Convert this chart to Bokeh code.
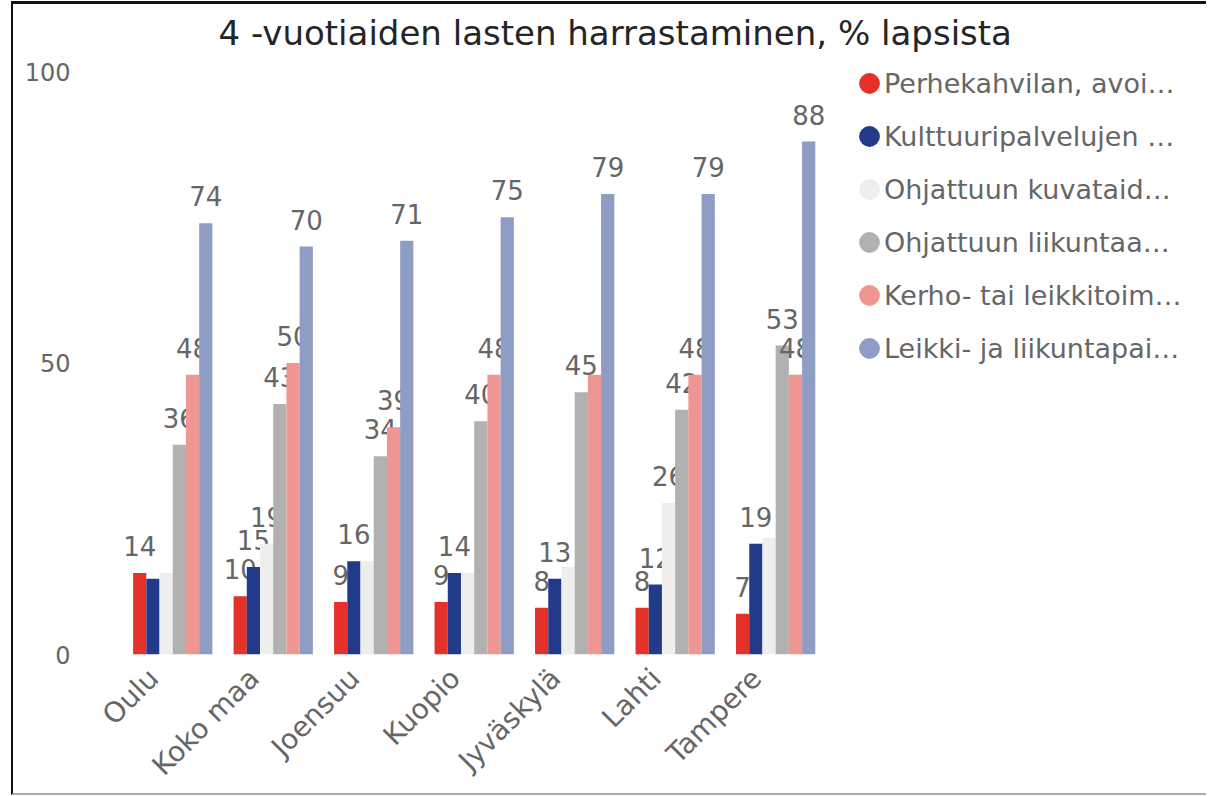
import math
from bokeh.plotting import figure
from bokeh.models import (ColumnDataSource, FixedTicker, Legend, LegendItem, Range1d,
                          CustomJSTickFormatter)
from bokeh.transform import dodge
from bokeh.core.properties import value
from bokeh.embed import file_html
from bokeh.resources import INLINE

cities = ["Oulu", "Koko maa", "Joensuu", "Kuopio", "Jyväskylä", "Lahti", "Tampere"]
series_names = [
    "Perhekahvilan, avoi…",
    "Kulttuuripalvelujen …",
    "Ohjattuun kuvataid…",
    "Ohjattuun liikuntaa…",
    "Kerho- tai leikkitoim…",
    "Leikki- ja liikuntapai…",
]
perhekahvila = [14, 10, 9, 9, 8, 8, 7]
kulttuuri = [13, 15, 16, 14, 13, 12, 19]
kuvataide = [14, 19, 16, 14, 15, 26, 20]
liikunta = [36, 43, 34, 40, 45, 42, 53]
kerho = [48, 50, 39, 48, 48, 48, 48]
leikki = [74, 70, 71, 75, 79, 79, 88]
series_values = [perhekahvila, kulttuuri, kuvataide, liikunta, kerho, leikki]
# data labels hidden in the reference (overlapping): (city, series index)
hidden_labels = [("Oulu", 1), ("Oulu", 2), ("Joensuu", 2), ("Kuopio", 2),
                 ("Jyväskylä", 2), ("Jyväskylä", 4), ("Tampere", 2)]
y_ticks = [0, 50, 100]

colors = ["#E4322B", "#223A8A", "#EEEEEC", "#B1B1B1", "#F09692", "#8F9CC4"]
FONT = "DejaVu Sans"
LABEL_COLOR = "#666666"

positions = list(range(len(cities)))

# canvas: 1193 px wide; frame starts at 109 px; one category = 100.3 px
p = figure(x_range=Range1d(-0.5, -0.5 + 1084 / 100.3), y_range=Range1d(0, 102.6),
           width=1195, height=794, output_backend="svg", toolbar_location=None,
           min_border_left=109, min_border_right=0, min_border_top=52,
           min_border_bottom=144)
p.styles = {"border-left": "2px solid #111111", "border-top": "3px solid #111111",
            "border-bottom": "2px solid #aaaaaa", "margin-top": "1px",
            "margin-left": "11px"}

p.title.text = "4 -vuotiaiden lasten harrastaminen, % lapsista"
p.title.text_font = FONT
p.title.text_font_size = "34px"
p.title.text_font_style = "normal"
p.title.text_color = "#252525"
p.title.align = "left"
p.title.offset = 96
p.title.standoff = 8

p.outline_line_color = None
p.xgrid.grid_line_color = None
p.ygrid.grid_line_color = None

bw = 0.1315
offsets = [(-2.5 + i) * bw for i in range(6)]

data = {"pos": positions, "city": cities}
for i, vals in enumerate(series_values):
    data[f"s{i}"] = vals
    data[f"t{i}"] = ["" if (c, i) in hidden_labels else str(v) for c, v in zip(cities, vals)]
src = ColumnDataSource(data)

marker_items = []
text_items = []
for i in range(6):
    p.vbar(x=dodge("pos", offsets[i]), top=f"s{i}", width=bw,
           source=src, fill_color=colors[i], line_color=None)
    p.text(x=dodge("pos", offsets[i]), y=f"s{i}", text=f"t{i}",
           source=src, text_align="center", text_baseline="alphabetic", y_offset=-27,
           text_font=value(FONT), text_font_size="26px", text_color=LABEL_COLOR)
    r = p.scatter(x=[float("nan")], y=[float("nan")], marker="circle", size=21,
                  fill_color=colors[i], line_color=None)
    marker_items.append(LegendItem(label=" ", renderers=[r]))
    r2 = p.scatter(x=[float("nan")], y=[float("nan")], marker="circle", size=21,
                   fill_alpha=0, line_alpha=0)
    text_items.append(LegendItem(label=series_names[i], renderers=[r2]))

legend_style = dict(glyph_width=52, glyph_height=52, spacing=1, padding=0, margin=0,
                    label_standoff=0, label_text_font=FONT, label_text_font_size="27px",
                    label_text_color=LABEL_COLOR, border_line_color=None,
                    background_fill_alpha=0)
p.add_layout(Legend(items=marker_items, location=(721, 280), **legend_style), "center")
p.add_layout(Legend(items=text_items, location=(710, 280), **legend_style), "center")

p.yaxis.ticker = FixedTicker(ticks=y_ticks)
p.yaxis.axis_line_color = None
p.yaxis.major_tick_line_color = None
p.yaxis.minor_tick_line_color = None
p.yaxis.major_label_standoff = 46
p.yaxis.major_label_text_font = FONT
p.yaxis.major_label_text_font_size = "24px"
p.yaxis.major_label_text_color = LABEL_COLOR

label_shift = 0.19  # rotated labels end a little left of the group centre
p.xaxis.ticker = FixedTicker(ticks=[x - label_shift for x in positions], minor_ticks=[])
p.xaxis.formatter = CustomJSTickFormatter(args=dict(names=cities),
                                          code="return names[index] ?? '';")
p.xaxis.axis_line_color = None
p.xaxis.major_tick_line_color = None
p.xaxis.minor_tick_line_color = None
p.xaxis.major_label_orientation = math.pi / 4
p.xaxis.major_label_standoff = 13
p.xaxis.major_label_text_font = FONT
p.xaxis.major_label_text_font_size = "28px"
p.xaxis.major_label_text_color = LABEL_COLOR

open("out.html", "w").write(file_html(p, INLINE))
